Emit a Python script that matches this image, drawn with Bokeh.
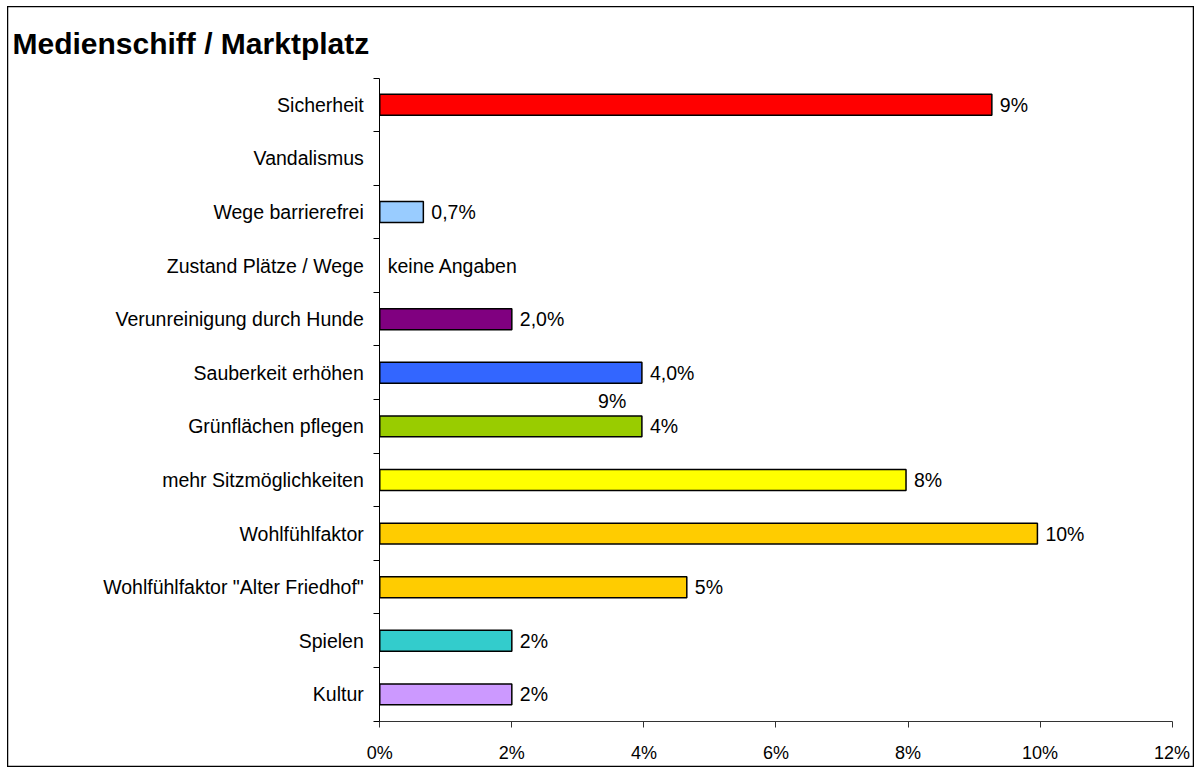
from bokeh.plotting import figure
from bokeh.models import ColumnDataSource, LinearAxis, FixedTicker, Label
from bokeh.embed import file_html
from bokeh.resources import INLINE

# ---- data ----
title_text = "Medienschiff / Marktplatz"
categories = ["Sicherheit", "Vandalismus", "Wege barrierefrei", "Zustand Plätze / Wege",
              "Verunreinigung durch Hunde", "Sauberkeit erhöhen", "Grünflächen pflegen",
              "mehr Sitzmöglichkeiten", "Wohlfühlfaktor", "Wohlfühlfaktor \"Alter Friedhof\"",
              "Spielen", "Kultur"]
values = [9.27, None, 0.66, None, 2.0, 3.97, 3.97, 7.97, 9.96, 4.65, 2.0, 2.0]
value_labels = ["9%", "", "0,7%", "keine Angaben", "2,0%", "4,0%", "4%", "8%", "10%", "5%", "2%", "2%"]
colors = ["#FF0000", "#FFFFFF", "#99CCFF", "#FFFFFF", "#800080", "#3366FF", "#99CC00",
          "#FFFF00", "#FFCC00", "#FFCC00", "#33CCCC", "#CC99FF"]
x_ticks = [0, 2, 4, 6, 8, 10, 12]
x_tick_labels = ["0%", "2%", "4%", "6%", "8%", "10%", "12%"]
# a stray data label in the original chart
stray_label = "9%"
stray_x = 3.52
stray_y_cat = 5.53  # position counted from top category (0 = Sicherheit)

n = len(categories)
ypos = [n - 1 - i for i in range(n)]

FONT = "Liberation Sans"
LBL_SIZE = "19.5px"
W, H = 1187, 761

p = figure(width=W, height=H, output_backend="svg", toolbar_location=None,
           x_range=(-5.638, 12.339), y_range=(-1.364, 12.834),
           x_axis_type=None, y_axis_type=None, min_border=0)
p.margin = (6, 0, 0, 7)
p.xgrid.visible = False
p.ygrid.visible = False
p.outline_line_color = "black"
p.outline_line_width = 1.5
p.background_fill_color = "white"
p.border_fill_color = "white"

bars = dict(y=[], right=[], color=[])
for yy, v, c in zip(ypos, values, colors):
    if v is not None:
        bars["y"].append(yy)
        bars["right"].append(v)
        bars["color"].append(c)
p.hbar(y="y", left=0, right="right", height=0.39, fill_color="color",
       line_color="black", line_width=1.5, source=ColumnDataSource(bars))

lab = dict(x=[], y=[], t=[])
for yy, v, t in zip(ypos, values, value_labels):
    if t:
        lab["x"].append(v if v is not None else 0)
        lab["y"].append(yy)
        lab["t"].append(t)
p.text(x="x", y="y", text="t", x_offset=8, text_align="left", text_baseline="middle",
       text_font={"value": FONT}, text_font_size=LBL_SIZE, text_color="black",
       source=ColumnDataSource(lab))

p.text(x=[stray_x], y=[n - 1 - stray_y_cat], text=[stray_label], text_align="center",
       text_baseline="middle", text_font={"value": FONT}, text_font_size=LBL_SIZE,
       text_color="black")

# y axis: labels at centers, tick marks between categories
yax = LinearAxis(fixed_location=0, bounds=(-0.5, n - 0.5),
                 ticker=FixedTicker(ticks=ypos, minor_ticks=[k - 0.5 for k in range(n + 1)]))
yax.major_label_overrides = {yy: c for yy, c in zip(ypos, categories)}
yax.major_tick_out = 0
yax.major_tick_in = 0
yax.minor_tick_out = 6
yax.minor_tick_in = 0
yax.minor_tick_line_color = "black"
yax.axis_line_color = "black"
yax.axis_line_width = 1
yax.major_label_standoff = 10
yax.major_label_text_font = FONT
yax.major_label_text_font_size = LBL_SIZE
yax.major_label_text_color = "black"
p.add_layout(yax, "left")

xax = LinearAxis(fixed_location=-0.5, bounds=(0, 12), ticker=FixedTicker(ticks=x_ticks))
xax.major_label_overrides = {t: l for t, l in zip(x_ticks, x_tick_labels)}
xax.major_tick_out = 6
xax.major_tick_in = 0
xax.minor_tick_line_color = None
xax.axis_line_color = "#333333"
xax.major_tick_line_color = "#333333"
xax.major_label_standoff = 16
xax.major_label_text_font = FONT
xax.major_label_text_font_size = "18px"
xax.major_label_text_color = "black"
p.add_layout(xax, "below")

p.add_layout(Label(x=5, y=724, x_units="screen", y_units="screen", text=title_text,
                   text_font=FONT, text_font_size="30px", text_font_style="bold",
                   text_color="black", text_baseline="alphabetic"))

open("out.html", "w").write(file_html(p, INLINE))
